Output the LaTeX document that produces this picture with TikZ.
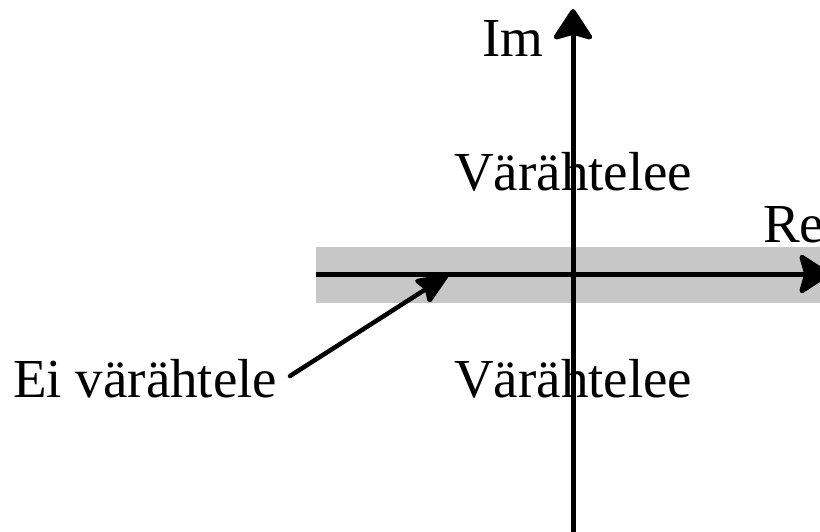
\documentclass[tikz,border=0pt]{standalone}
\usepackage{fontspec}
\setmainfont{Liberation Serif}
\usetikzlibrary{arrows.meta}
\tikzset{
  lbl/.style={inner sep=0pt, anchor=base west, font=\fontsize{55}{60}\selectfont},
  axis/.style={line width=5pt, -{Stealth[length=34pt, width=44pt, inset=6pt, round]}},
  pointer/.style={line width=4.5pt, line cap=round, -{Stealth[length=36pt, width=30pt, inset=5pt, round]}},
  bandfill/.style={fill=black!22}
}
\begin{document}
\begin{tikzpicture}[x=1pt,y=-1pt]
\useasboundingbox (0,0) rectangle (820,532);
% shaded band
\fill[bandfill] (316,247) rectangle (830,303);
% axes coordinates
\coordinate (ybot) at (573,545);
\coordinate (ytop) at (573,9);
\coordinate (xleft) at (316,274);
\coordinate (xright) at (830,274);
\draw[axis] (xleft) -- (xright);
\draw[axis] (ybot) -- (ytop);
% labels
\node[lbl] (im) at (482,57) {Im};
\node[lbl] (re) at (763,242) {Re};
\node[lbl] (v1) at (454,190) {Värähtelee};
\node[lbl] (v2) at (454,397) {Värähtelee};
\node[lbl] (ei) at (13,397) {Ei värähtele};
% pointer
\coordinate (eitail) at (290,376);
\coordinate (eitip) at (448,275);
\draw[pointer] (eitail) -- (eitip);
\end{tikzpicture}
\end{document}
